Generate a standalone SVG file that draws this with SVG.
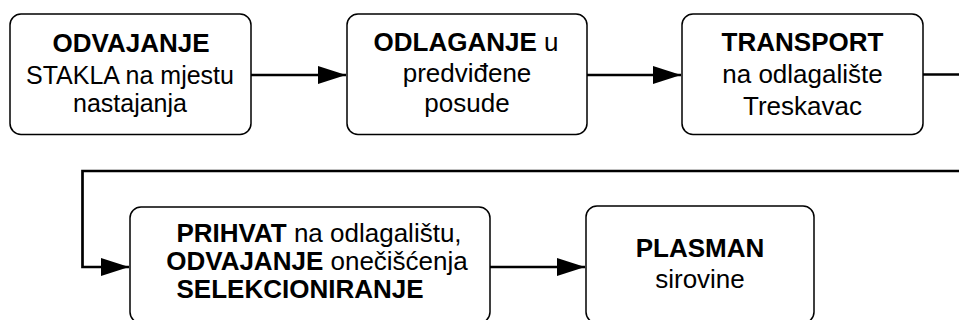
<svg xmlns="http://www.w3.org/2000/svg" width="959" height="320" viewBox="0 0 959 320">
<style>
.box{fill:#fff;stroke:#000;stroke-width:1.5}
.t{font-family:"Liberation Sans",Arial,sans-serif;font-size:26px;fill:#000;text-anchor:middle}
.s{font-size:25px}
.b{font-weight:bold}
.c{fill:none;stroke:#000;stroke-width:2.7}
</style>
<defs>
<marker id="ah" markerUnits="userSpaceOnUse" markerWidth="28" markerHeight="18" refX="28" refY="9" orient="auto">
<path d="M0,0 L28,9 L0,18 Z" fill="#000"/>
</marker>
</defs>
<g id="connectors">
<path class="c" d="M251,75 H346" marker-end="url(#ah)"/>
<path class="c" d="M587,75 H681" marker-end="url(#ah)"/>
<path class="c" d="M923,74.5 H968 V171 H82.5 V267 H129" marker-end="url(#ah)"/>
<path class="c" d="M490,267 H585" marker-end="url(#ah)"/>
</g>
<g id="n1">
<rect class="box" x="10" y="14" width="241" height="120.5" rx="11"/>
<text class="t" x="131" y="51.5"><tspan class="b">ODVAJANJE</tspan></text>
<text class="t s" x="130" y="84">STAKLA na mjestu</text>
<text class="t s" x="130" y="112">nastajanja</text>
</g>
<g id="n2">
<rect class="box" x="347" y="14" width="240" height="120.5" rx="11"/>
<text class="t" x="466" y="50.5"><tspan class="b">ODLAGANJE</tspan> u</text>
<text class="t" x="467" y="82">predviđene</text>
<text class="t" x="467" y="112">posude</text>
</g>
<g id="n3">
<rect class="box" x="682" y="14" width="241" height="120.5" rx="11"/>
<text class="t" x="802.5" y="50.5"><tspan class="b">TRANSPORT</tspan></text>
<text class="t" x="802.5" y="83">na odlagalište</text>
<text class="t" x="802.5" y="115">Treskavac</text>
</g>
<g id="n4">
<rect class="box" x="130" y="207" width="360" height="116" rx="11"/>
<text class="t" x="319" y="242"><tspan class="b">PRIHVAT</tspan> na odlagalištu,</text>
<text class="t" x="317" y="270"><tspan class="b">ODVAJANJE</tspan> onečišćenja</text>
<text class="t b" x="300" y="298">SELEKCIONIRANJE</text>
</g>
<g id="n5">
<rect class="box" x="586" y="206" width="228" height="117" rx="11"/>
<text class="t b" x="700" y="257">PLASMAN</text>
<text class="t" x="700" y="288">sirovine</text>
</g>
</svg>
